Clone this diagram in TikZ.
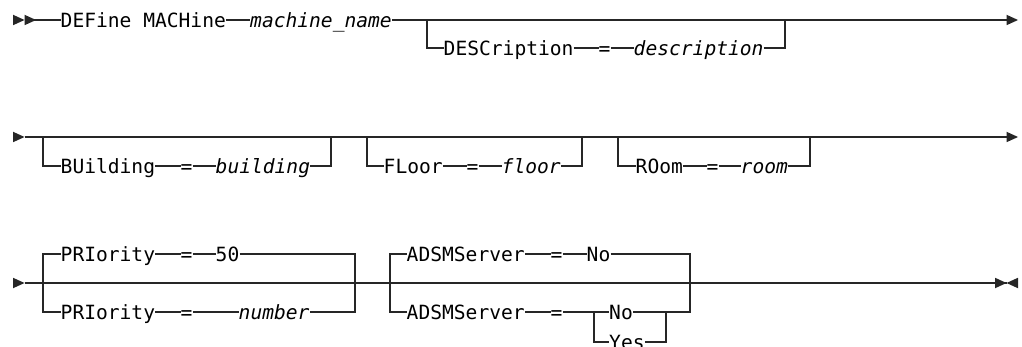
\documentclass[tikz,border=0pt]{standalone}
\usepackage{fontspec}
\newfontfamily\railfont{DejaVu Sans Mono}
\usetikzlibrary{arrows.meta}

\tikzset{
  Rail/.tip={Triangle[length=11.5pt,width=10.5pt,line width=0pt]},
  RailR/.tip={Triangle[length=11.5pt,width=10.5pt,line width=0pt,reversed]}
}

\begin{document}
\begin{tikzpicture}[
  x=1pt, y=-1pt,
  every node/.style={font=\railfont\fontsize{19.6}{22}\selectfont},
  kw/.style={inner xsep=0pt, inner ysep=0pt, text height=14.3pt, text depth=0pt, anchor=west},
  var/.style={kw, font=\railfont\itshape\fontsize{19.6}{22}\selectfont},
  rail/.style={line width=1.1pt, draw=black!85}
]
\useasboundingbox (0,0) rectangle (1022,347);

\coordinate (r1s) at (13,20);
\coordinate (r1a) at (427,20);
\coordinate (r1b) at (785,20);
\coordinate (r1e) at (1018,20);
\node[kw]  (define) at (60.5,20)  {DEFine MACHine};
\node[var] (mname)  at (250,20)   {machine\_name};
\node[kw]  (desc)   at (443.5,48) {DESCription};
\node[kw]  (eqa)    at (598.5,48) {=};
\node[var] (descv)  at (633.5,48) {description};

\draw[rail, {RailR[]RailR[]}-] (r1s) -- (define.west);
\draw[rail] (define.east) -- (mname.west);
\draw[rail, -Rail] (mname.east) -- (r1e);
\draw[rail] (r1a) |- (desc.west);
\draw[rail] (desc.east) -- (eqa.west);
\draw[rail] (eqa.east) -- (descv.west);
\draw[rail] (descv.east) -| (r1b);

\coordinate (r2s) at (13,137);
\coordinate (r2e) at (1018,137);
\coordinate (bu1) at (43,137);
\coordinate (bu2) at (331,137);
\coordinate (fl1) at (367,137);
\coordinate (fl2) at (582,137);
\coordinate (ro1) at (618,137);
\coordinate (ro2) at (810,137);
\node[kw]  (bldg)   at (60.5,166)  {BUilding};
\node[kw]  (eqb)    at (180.5,166) {=};
\node[var] (bldgv)  at (215.5,166) {building};
\node[kw]  (floor)  at (383.5,166) {FLoor};
\node[kw]  (eqc)    at (466.5,166) {=};
\node[var] (floorv) at (501.5,166) {floor};
\node[kw]  (room)   at (635.5,166) {ROom};
\node[kw]  (eqd)    at (706.5,166) {=};
\node[var] (roomv)  at (740.5,166) {room};

\draw[rail, RailR-Rail] (r2s) -- (r2e);
\draw[rail] (bu1) |- (bldg.west);
\draw[rail] (bldg.east) -- (eqb.west);
\draw[rail] (eqb.east) -- (bldgv.west);
\draw[rail] (bldgv.east) -| (bu2);
\draw[rail] (fl1) |- (floor.west);
\draw[rail] (floor.east) -- (eqc.west);
\draw[rail] (eqc.east) -- (floorv.west);
\draw[rail] (floorv.east) -| (fl2);
\draw[rail] (ro1) |- (room.west);
\draw[rail] (room.east) -- (eqd.west);
\draw[rail] (eqd.east) -- (roomv.west);
\draw[rail] (roomv.east) -| (ro2);

\coordinate (r3s) at (13,283);
\coordinate (r3e) at (1018,283);
\coordinate (pr1) at (43,283);
\coordinate (pr2) at (355,283);
\coordinate (sv1) at (390,283);
\coordinate (sv2) at (690,283);
\coordinate (yn1) at (594,312);
\coordinate (yn2) at (666,312);
\node[kw]  (prio1)  at (60.5,254)  {PRIority};
\node[kw]  (eqe)    at (180.5,254) {=};
\node[kw]  (fifty)  at (215.5,254) {50};
\node[kw]  (prio2)  at (60.5,312)  {PRIority};
\node[kw]  (eqf)    at (180.5,312) {=};
\node[var] (number) at (238.5,312) {number};
\node[kw]  (srv1)   at (406.5,254) {ADSMServer};
\node[kw]  (eqg)    at (550.5,254) {=};
\node[kw]  (no1)    at (586.5,254) {No};
\node[kw]  (srv2)   at (406.5,312) {ADSMServer};
\node[kw]  (eqh)    at (550.5,312) {=};
\node[kw]  (no2)    at (609,312)   {No};
\node[kw]  (yes)    at (609,342)   {Yes};

\draw[rail, RailR-{Rail[]RailR[]}] (r3s) -- (r3e);
\draw[rail] (prio1.west) -| (pr1) |- (prio2.west);
\draw[rail] (prio1.east) -- (eqe.west);
\draw[rail] (eqe.east) -- (fifty.west);
\draw[rail] (fifty.east) -| (pr2) |- (number.east);
\draw[rail] (prio2.east) -- (eqf.west);
\draw[rail] (eqf.east) -- (number.west);
\draw[rail] (srv1.west) -| (sv1) |- (srv2.west);
\draw[rail] (srv1.east) -- (eqg.west);
\draw[rail] (eqg.east) -- (no1.west);
\draw[rail] (no1.east) -| (sv2) |- (yn2);
\draw[rail] (srv2.east) -- (eqh.west);
\draw[rail] (eqh.east) -- (yn1) -- (no2.west);
\draw[rail] (yn1) |- (yes.west);
\draw[rail] (no2.east) -- (yn2);
\draw[rail] (yes.east) -| (yn2);
\end{tikzpicture}
\end{document}
